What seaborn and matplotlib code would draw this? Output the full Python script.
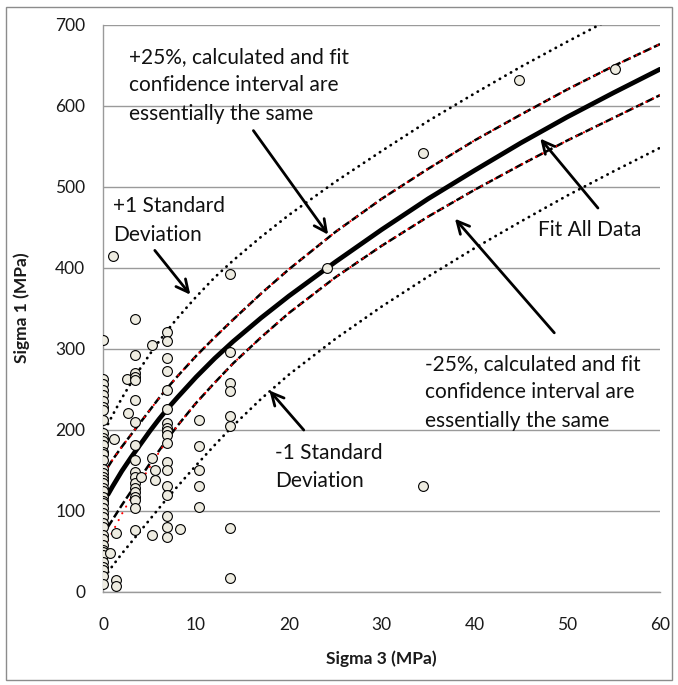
import matplotlib
matplotlib.use("Agg")
import matplotlib.pyplot as plt
from matplotlib.patches import Rectangle
import seaborn as sns

# Puntos medidos (Sigma 3, Sigma 1) en MPa
sigma3_pts = ([0.0] * 42
              + [0.7, 1.0, 1.1, 1.4, 1.4, 1.4, 2.5, 2.7]
              + [3.4] * 18
              + [4.1, 5.2, 5.2, 5.2, 5.6, 5.6]
              + [6.9] * 18
              + [8.3]
              + [10.3] * 5
              + [13.7] * 8
              + [24.1, 34.5, 34.5, 44.8, 55.1])
sigma1_pts = ([311, 262, 256, 249, 243, 235, 228, 224, 212, 196, 190, 186, 181, 173,
               170, 163, 152, 146, 142, 138, 134, 128, 124, 117, 112, 109, 103, 97,
               92, 85, 80, 70, 65, 58, 52, 49, 45, 37, 30, 27, 19, 10]
              + [48, 414, 188, 72, 14, 7, 263, 220]
              + [337, 292, 270, 265, 261, 237, 210, 181, 162, 148, 142, 134, 128, 123,
                 117, 113, 103, 76]
              + [142, 305, 165, 70, 150, 138]
              + [321, 309, 288, 272, 249, 225, 208, 202, 198, 193, 183, 160, 150, 130,
                 119, 93, 80, 68]
              + [78]
              + [212, 180, 150, 130, 105]
              + [392, 296, 258, 248, 217, 205, 79, 17]
              + [399, 541, 130, 632, 645])

# Curvas
curve_x = [0.5, 1, 2, 3, 4, 5, 6, 7, 8, 10, 12, 14, 17, 20, 25, 30, 35, 40, 45, 50, 55, 60]
fit_all = [120, 130, 149, 166, 182, 198, 213, 227, 240, 265, 288, 309, 338, 365, 407,
           447, 485, 520, 554, 586, 616, 645]
plus_25 = [154, 163, 179, 194, 209, 224, 239, 253, 266, 291, 314, 336, 368, 398, 444,
           485, 522, 557, 589, 620, 649, 676]
minus_25 = [80, 89, 107, 124, 141, 158, 174, 190, 205, 233, 258, 282, 314, 344, 388,
            427, 463, 496, 527, 557, 585, 613]
plus_25_calc = [154, 163, 179, 194, 209, 224, 239, 253, 266, 291, 314, 336, 368, 398, 444,
                485, 522, 557, 589, 620, 649, 676]
minus_25_calc = [63, 74, 96, 116, 135, 154, 172, 189, 205, 233, 258, 282, 314, 344, 388,
                 427, 463, 496, 527, 557, 585, 613]
plus_1sd = [207, 218, 239, 258, 276, 293, 309, 324, 338, 364, 388, 409, 438, 465, 506,
            544, 581, 615, 648, 679, 709, 738]
minus_1sd = [24, 32, 47, 61, 75, 89, 103, 117, 130, 156, 181, 205, 238, 268, 312,
             352, 389, 424, 457, 489, 519, 548]

sns.set_style("white")
plt.rcParams["font.family"] = ["Lato", "DejaVu Sans"]

fig = plt.figure(figsize=(6.78, 6.85), dpi=100)
ax = fig.add_axes([0.1524, 0.1362, 0.8211, 0.8278])

grid_c = "#9a9a9a"
dot = (0, (0.1, 2.2))
dash = (0, (3.2, 1.3))
red_dot = (0, (0.1, 3.6))

sns.lineplot(x=curve_x, y=plus_1sd, ax=ax, color="black", lw=2.0, linestyle=dot,
             dash_capstyle="round", sort=False, estimator=None)
sns.lineplot(x=curve_x, y=minus_1sd, ax=ax, color="black", lw=2.0, linestyle=dot,
             dash_capstyle="round", sort=False, estimator=None)
sns.lineplot(x=curve_x, y=plus_25, ax=ax, color="black", lw=1.8, linestyle=dash,
             sort=False, estimator=None)
sns.lineplot(x=curve_x, y=minus_25, ax=ax, color="black", lw=1.8, linestyle=dash,
             sort=False, estimator=None)
sns.lineplot(x=curve_x, y=plus_25_calc, ax=ax, color="red", lw=1.5, linestyle=red_dot,
             dash_capstyle="round", sort=False, estimator=None)
sns.lineplot(x=curve_x, y=minus_25_calc, ax=ax, color="red", lw=1.5, linestyle=red_dot,
             dash_capstyle="round", sort=False, estimator=None)
sns.lineplot(x=curve_x, y=fit_all, ax=ax, color="black", lw=3.4,
             sort=False, estimator=None)

sns.scatterplot(x=sigma3_pts, y=sigma1_pts, ax=ax, s=50, color="#eeece1",
                edgecolor="black", linewidth=0.8, zorder=5)

ax.set_xlim(0, 60)
ax.set_ylim(0, 700)
ax.set_xticks(range(0, 61, 10))
ax.set_yticks(range(0, 701, 100))
ax.yaxis.grid(True, color=grid_c, lw=1)
ax.xaxis.grid(False)
ax.set_axisbelow(True)
for s in ["top", "right"]:
    ax.spines[s].set_visible(False)
for s in ["left", "bottom"]:
    ax.spines[s].set_color(grid_c)
    ax.spines[s].set_linewidth(1)
ax.tick_params(axis="both", which="major", direction="out", length=5, width=1,
               color=grid_c, labelsize=12.5, labelcolor="#1a1a1a")
ax.tick_params(axis="x", pad=13)
ax.tick_params(axis="y", pad=8)

ax.set_xlabel("Sigma 3 (MPa)", fontsize=12.5, fontweight="bold", color="#1a1a1a")
ax.set_ylabel("Sigma 1 (MPa)", fontsize=12.5, fontweight="bold", color="#1a1a1a")
ax.xaxis.set_label_coords(0.5, -0.104)
ax.yaxis.set_label_coords(-0.132, 0.5)

arrow = dict(arrowstyle="->", color="black", lw=2, mutation_scale=22)
txt = dict(fontsize=15, color="#111111", linespacing=1.55, ha="left", va="center")

ax.text(2.77, 625, "+25%, calculated and fit\nconfidence interval are\nessentially the same", **txt)
ax.annotate("", xy=(24.4, 438), xytext=(16.0, 572), arrowprops=arrow)

ax.text(1.05, 458, "+1 Standard\nDeviation", **txt)
ax.annotate("", xy=(9.56, 364), xytext=(5.36, 424), arrowprops=arrow)

ax.text(46.85, 446, "Fit All Data", **txt)
ax.annotate("", xy=(46.9, 562), xytext=(53.5, 471), arrowprops=arrow)

ax.text(34.7, 246, "-25%, calculated and fit\nconfidence interval are\nessentially the same", **txt)
ax.annotate("", xy=(37.7, 463), xytext=(48.8, 317), arrowprops=arrow)

ax.text(18.5, 154, "-1 Standard\nDeviation", **txt)
ax.annotate("", xy=(17.7, 251), xytext=(21.8, 197), arrowprops=arrow)

fig.patches.append(Rectangle((6 / 678, 5 / 685), 666 / 678, 673 / 685,
                             transform=fig.transFigure, fill=False,
                             edgecolor="#8c8c8c", lw=1))

fig.savefig("out.png", dpi=100)
